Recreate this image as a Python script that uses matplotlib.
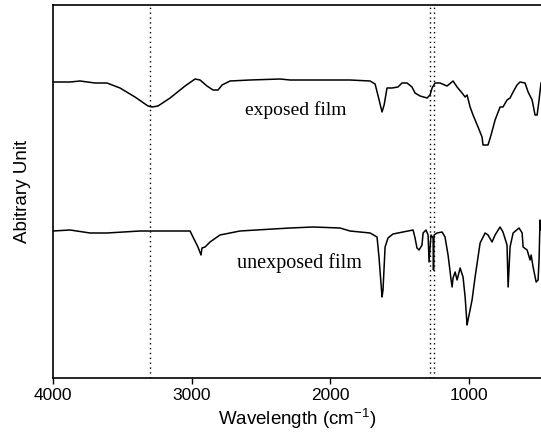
import matplotlib
matplotlib.use('Agg')
import matplotlib.pyplot as plt

# exposed film spectrum (wavenumber, arbitrary unit)
exposed_wn = [4000, 3877, 3805, 3697, 3611, 3517, 3409, 3315, 3286, 3243, 3156, 3048,
              2976, 2940, 2890, 2846, 2810, 2781, 2724, 2580, 2363, 2291, 2075, 1859,
              1714, 1678, 1649, 1628, 1613, 1592, 1556, 1513, 1484, 1448, 1412, 1390,
              1354, 1303, 1282, 1267, 1246, 1210, 1159, 1116, 1087, 1051, 1029, 1015,
              993, 972, 936, 907, 900, 864, 842, 813, 777, 756, 727, 705, 683, 655,
              633, 597, 575, 546, 525, 510, 496, 482]
exposed_val = [2.96, 2.96, 2.97, 2.95, 2.95, 2.90, 2.81, 2.72, 2.71, 2.72, 2.80, 2.92,
               2.99, 2.98, 2.92, 2.88, 2.88, 2.93, 2.97, 2.98, 2.99, 2.98, 2.98, 2.98,
               2.97, 2.94, 2.78, 2.66, 2.73, 2.90, 2.90, 2.91, 2.95, 2.95, 2.91, 2.85,
               2.82, 2.80, 2.83, 2.90, 2.95, 2.95, 2.92, 2.97, 2.91, 2.85, 2.81, 2.83,
               2.71, 2.63, 2.51, 2.41, 2.33, 2.33, 2.43, 2.58, 2.71, 2.71, 2.78, 2.80,
               2.86, 2.93, 2.96, 2.95, 2.86, 2.78, 2.63, 2.63, 2.78, 2.95]

# unexposed film spectrum
unexposed_wn = [4000, 3877, 3733, 3611, 3373, 3012, 2991, 2955, 2933, 2926, 2904, 2868,
                2796, 2652, 2414, 2291, 2125, 1931, 1859, 1714, 1664, 1650, 1628, 1621,
                1606, 1585, 1549, 1477, 1404, 1390, 1376, 1361, 1340, 1332, 1311, 1296,
                1289, 1275, 1260, 1257, 1253, 1231, 1195, 1174, 1152, 1130, 1123, 1116,
                1101, 1087, 1065, 1044, 1029, 1015, 1008, 979, 957, 921, 885, 864, 835,
                813, 777, 756, 727, 719, 705, 683, 640, 618, 611, 582, 561, 553, 539,
                517, 503, 496, 489, 482]
unexposed_val = [1.47, 1.48, 1.45, 1.45, 1.47, 1.47, 1.41, 1.31, 1.23, 1.30, 1.31, 1.36,
                 1.43, 1.47, 1.49, 1.50, 1.51, 1.50, 1.47, 1.45, 1.41, 1.21, 0.81, 0.88,
                 1.31, 1.40, 1.44, 1.46, 1.48, 1.40, 1.30, 1.28, 1.33, 1.45, 1.48, 1.43,
                 1.16, 1.43, 1.40, 1.08, 1.43, 1.45, 1.46, 1.41, 1.23, 0.98, 0.91, 1.00,
                 1.06, 0.98, 1.10, 1.01, 0.81, 0.53, 0.58, 0.78, 1.01, 1.35, 1.45, 1.43,
                 1.36, 1.43, 1.51, 1.46, 1.33, 0.91, 1.31, 1.45, 1.50, 1.45, 1.31, 1.28,
                 1.18, 1.23, 1.11, 0.96, 0.98, 1.18, 1.58, 1.48]

marker_lines = [3301, 1282, 1253]
xticks = [4000, 3000, 2000, 1000]

fig = plt.figure(figsize=(5.41, 4.41), dpi=100)
ax = fig.add_axes([53 / 541, 1 - 378 / 441, 1 - 53 / 541, 373 / 441])

ax.plot(exposed_wn, exposed_val, color='black', linewidth=1.1)
ax.plot(unexposed_wn, unexposed_val, color='black', linewidth=1.1)
for wn in marker_lines:
    ax.axvline(wn, color='black', linewidth=1.0, linestyle=(0, (1, 2.5)))

ax.text(2616, 2.68, 'exposed film', family='Liberation Serif', fontsize=14,
        ha='left', va='center')
ax.text(2673, 1.15, 'unexposed film', family='Liberation Serif', fontsize=14.5,
        ha='left', va='center')

ax.set_xlim(4000, 482)
ax.set_ylim(0, 3.73)
ax.set_xticks(xticks)
ax.set_xticklabels([str(t) for t in xticks], family='Liberation Sans', fontsize=12.5)
ax.set_yticks([])
ax.tick_params(axis='x', direction='out', length=4, width=1.0)
ax.spines['right'].set_visible(False)
for s in ['left', 'top', 'bottom']:
    ax.spines[s].set_linewidth(1.2)

ax.set_xlabel('Wavelength (cm$^{\\mathregular{-1}}$)', family='Liberation Sans',
              fontsize=13.5, labelpad=2)
ax.set_ylabel('Abitrary Unit', family='Liberation Sans', fontsize=13.5, labelpad=16)

plt.savefig('out.png', dpi=100)
plt.close('all')
